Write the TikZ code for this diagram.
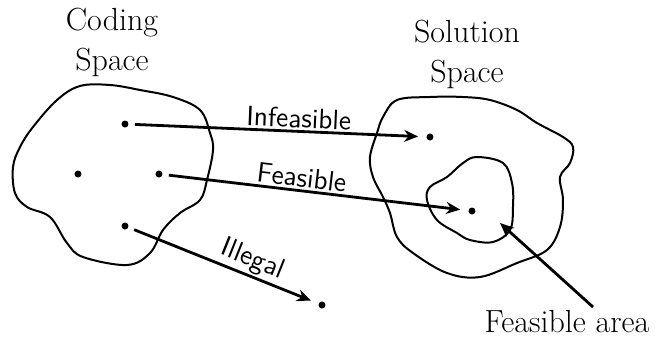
\documentclass[tikz,border=0pt]{standalone}
\usepackage{amsmath,amssymb}
\usepackage{xcolor}
\usetikzlibrary{calc,positioning,arrows.meta}

\begin{document}
\begin{tikzpicture}[x=0.5pt,y=-0.5pt,
  pt/.style={circle,fill,inner sep=0pt,minimum size=3.5pt},
  blob/.style={line width=1pt},
  map/.style={line width=1.4pt,-{Stealth[length=7pt,width=6pt]},shorten <=3pt,shorten >=4pt},
  lbl/.style={font=\sffamily\fontsize{14}{16}\selectfont,sloped,above,inner sep=1pt},
  ttl/.style={font=\fontsize{16}{20}\selectfont,align=center,inner sep=1pt}]
\useasboundingbox (0,0) rectangle (661,339);
\draw[blob] plot[smooth cycle,tension=0.6] coordinates {
  (80,86) (110,85) (140,90) (173,97) (200,110) (210,133) (213,150)
  (207,180) (200,200) (180,213) (163,230) (150,253) (127,265)
  (83,257) (67,243) (50,217) (27,207) (15,193) (13,167) (20,147)
  (33,127) (57,100)};
\draw[blob] plot[smooth cycle,tension=0.6] coordinates {
  (397,100) (430,97) (463,97) (490,100) (517,110) (537,123) (563,137)
  (573,147) (570,163) (560,177) (563,200) (560,227) (547,250)
  (517,263) (480,277) (447,273) (413,253) (397,237) (390,213)
  (383,197) (373,177) (370,157) (377,133) (383,117)};
\draw[blob] plot[smooth cycle,tension=0.6] coordinates {
  (477,157) (503,163) (512,183) (513,207) (510,230) (493,242)
  (470,240) (457,233) (437,220) (427,200) (430,187) (447,177)
  (463,163)};
\node[ttl] (cs) at (112,42) {Coding\\Space};
\node[ttl] (ss) at (467,54) {Solution\\Space};
\node[pt] (c1) at (125,124) {};
\node[pt] (c2) at (78,174) {};
\node[pt] (c3) at (159,174) {};
\node[pt] (c4) at (125,226) {};
\node[pt] (s1) at (430,137) {};
\node[pt] (s2) at (472,211) {};
\node[pt] (s3) at (322,305) {};
\node[ttl] (fa) at (567,322) {Feasible area};
\coordinate (fb) at (593,307);
\coordinate (fi) at (500,223);
\draw[map] (c1) -- node[lbl,pos=0.57] {Infeasible} (s1);
\draw[map] (c3) -- node[lbl,pos=0.45] {Feasible} (s2);
\draw[map] (c4) -- node[lbl,pos=0.62] {Illegal} (s3);
\draw[map,shorten <=0pt,shorten >=0pt] (fb) -- (fi);
\end{tikzpicture}
\end{document}
